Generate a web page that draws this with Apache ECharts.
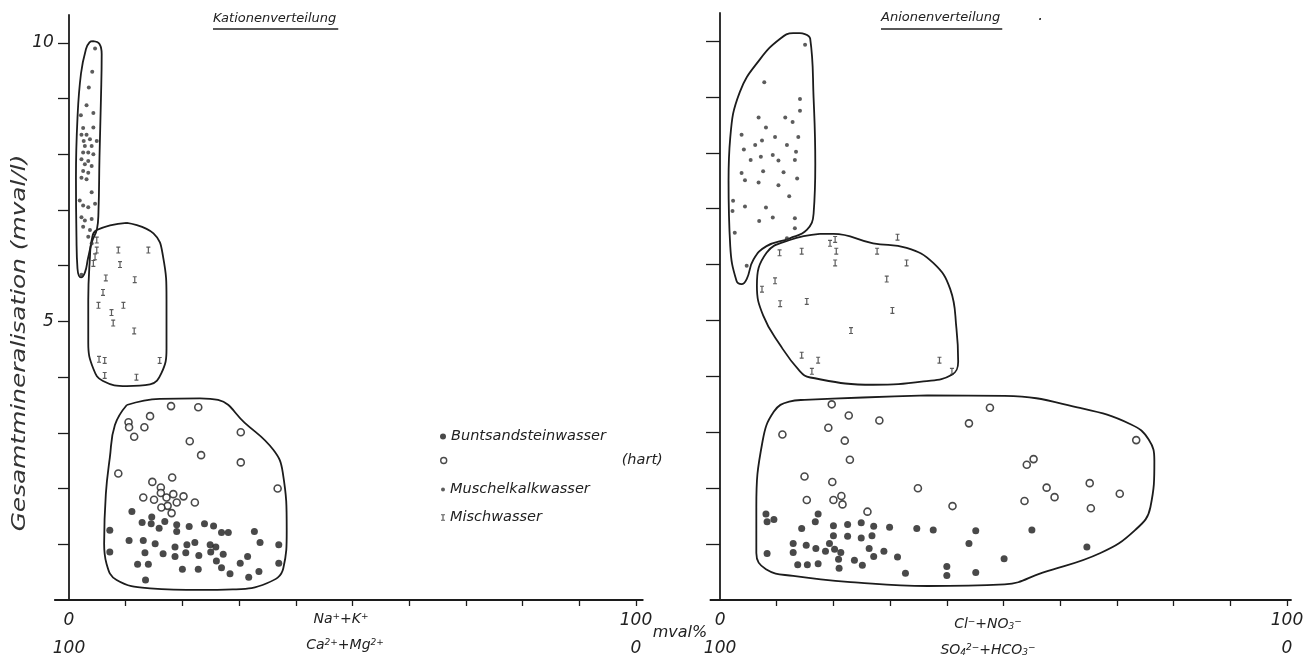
<!DOCTYPE html>
<html><head><meta charset="utf-8">
<script src="https://cdn.jsdelivr.net/npm/echarts@6/dist/echarts.min.js"></script>
<style>html,body{margin:0;padding:0;background:#fff}#c{width:1309px;height:663px}</style>
</head><body><div id="c"></div>
<script>
// ---------- Kationenverteilung (left panel) ----------
const kationBunt = [[11.1,1.59],[14.6,1.49],[12.9,1.39],[14.5,1.37],[16.9,1.41],[15.9,1.29],[19.0,1.35],[19.0,1.23],[21.2,1.32],[23.9,1.37],[25.5,1.33],[26.9,1.21],[28.1,1.21],[32.7,1.23],[7.2,1.25],[10.6,1.07],[13.1,1.07],[15.2,1.01],[18.7,0.95],[20.8,0.99],[22.2,1.03],[24.9,0.99],[25.9,0.95],[33.7,1.03],[37.0,0.99],[7.2,0.86],[13.4,0.85],[16.6,0.83],[18.7,0.78],[20.6,0.85],[22.9,0.80],[25.0,0.86],[27.2,0.82],[26.0,0.70],[30.2,0.66],[31.5,0.78],[12.1,0.64],[14.0,0.64],[20.0,0.55],[22.8,0.55],[26.9,0.58],[28.4,0.47],[31.7,0.41],[33.5,0.51],[37.0,0.66],[13.5,0.36]];
const kationHart = [[18.0,3.48],[22.8,3.46],[14.3,3.30],[10.5,3.19],[10.6,3.10],[13.3,3.10],[11.5,2.93],[21.3,2.85],[30.3,3.01],[23.3,2.60],[30.3,2.47],[8.7,2.27],[36.8,2.0],[14.7,2.12],[18.2,2.20],[16.2,2.02],[16.2,1.92],[13.1,1.84],[15.0,1.80],[17.2,1.84],[18.4,1.90],[20.2,1.86],[19.0,1.75],[22.2,1.75],[17.4,1.69],[16.3,1.66],[18.1,1.56]];
const kationMuschel = [[4.6,9.9],[4.1,9.48],[3.5,9.2],[3.1,8.88],[4.3,8.74],[2.1,8.7],[4.3,8.48],[2.5,8.47],[2.2,8.35],[3.1,8.35],[2.6,8.24],[3.7,8.27],[2.8,8.15],[4.0,8.15],[4.9,8.24],[2.5,8.03],[3.4,8.03],[4.3,8.0],[2.2,7.91],[3.4,7.88],[2.8,7.82],[4.0,7.79],[2.5,7.70],[3.4,7.67],[2.2,7.58],[3.1,7.55],[4.0,7.32],[1.9,7.17],[2.5,7.08],[3.4,7.05],[4.6,7.11],[2.2,6.87],[2.8,6.81],[4.0,6.84],[2.5,6.70],[3.7,6.64],[3.4,6.52],[4.0,6.40],[2.2,5.84]];
const kationMisch = [[4.9,6.46],[4.9,6.28],[4.6,6.16],[4.3,6.04],[8.7,6.28],[14.0,6.28],[9.0,6.02],[6.5,5.78],[11.6,5.75],[6.0,5.52],[5.2,5.29],[9.6,5.29],[7.5,5.16],[7.8,4.97],[11.5,4.83],[5.3,4.32],[6.3,4.30],[16.0,4.30],[6.3,4.03],[11.9,4.0]];
const kationHullMuschel = [[4.23,10.03],[5.38,9.98],[5.77,9.80],[5.64,9.0],[5.38,7.94],[5.2,6.96],[4.94,6.66],[4.06,6.43],[3.35,6.13],[2.82,5.88],[2.12,5.79],[1.5,5.95],[1.32,6.52],[1.23,7.58],[1.5,8.65],[2.12,9.45],[3.0,9.89],[3.62,10.01]];
const kationHullMisch = [[10.2,6.77],[14.9,6.58],[16.6,6.16],[17.2,5.39],[17.2,4.51],[16.3,4.07],[14.3,3.87],[10.2,3.84],[6.0,3.93],[4.3,4.15],[3.4,4.62],[3.4,5.39],[3.7,6.16],[4.0,6.46],[4.9,6.64]];
const kationHullBunt = [[10.2,3.50],[16.0,3.61],[23.1,3.62],[26.3,3.59],[31.0,3.18],[36.0,2.70],[37.7,2.29],[38.4,1.25],[37.8,0.57],[34.9,0.30],[28.9,0.19],[23.1,0.18],[14.3,0.21],[8.4,0.36],[6.6,0.66],[6.2,1.01],[6.5,1.90],[7.2,2.55],[8.1,3.14]];

// ---------- Anionenverteilung (right panel) ----------
const anionBunt = [[8.1,1.54],[8.3,1.40],[9.5,1.44],[17.3,1.54],[16.8,1.40],[14.4,1.28],[20.0,1.33],[22.5,1.35],[24.9,1.38],[27.1,1.32],[29.9,1.30],[34.7,1.28],[37.6,1.25],[45.1,1.24],[55.0,1.25],[20.0,1.15],[22.5,1.14],[24.9,1.11],[26.8,1.15],[12.9,1.01],[15.2,0.98],[16.9,0.92],[19.3,1.01],[20.2,0.91],[21.3,0.85],[18.6,0.87],[12.9,0.85],[26.3,0.92],[28.9,0.87],[43.9,1.01],[64.7,0.95],[8.3,0.83],[27.1,0.78],[31.3,0.77],[20.9,0.73],[23.7,0.71],[50.1,0.74],[13.7,0.63],[15.4,0.63],[17.3,0.65],[21.0,0.57],[25.1,0.62],[40.0,0.60],[32.7,0.48],[40.0,0.44],[45.1,0.49]];
const anionHart = [[19.7,3.50],[47.6,3.44],[22.7,3.30],[28.1,3.21],[43.9,3.16],[11.0,2.96],[19.1,3.08],[22.0,2.85],[73.4,2.86],[22.9,2.51],[55.3,2.52],[54.1,2.42],[14.9,2.21],[19.8,2.11],[34.9,2.00],[65.2,2.09],[57.6,2.01],[59.0,1.84],[70.5,1.90],[15.3,1.79],[20.0,1.79],[21.4,1.86],[21.6,1.71],[53.7,1.77],[41.0,1.68],[65.4,1.64],[26.0,1.58]];
const anionMuschel = [[15.0,9.93],[7.8,9.26],[14.1,8.96],[14.1,8.75],[6.8,8.63],[11.5,8.63],[12.8,8.55],[8.1,8.45],[3.8,8.32],[9.7,8.28],[13.8,8.28],[7.4,8.22],[6.2,8.14],[11.8,8.14],[4.2,8.06],[13.4,8.02],[9.3,7.96],[7.2,7.93],[5.4,7.87],[10.3,7.86],[13.2,7.87],[7.6,7.67],[11.2,7.65],[3.8,7.64],[4.4,7.51],[6.8,7.47],[10.3,7.42],[13.6,7.54],[12.2,7.22],[2.3,7.14],[4.4,7.04],[8.1,7.02],[2.2,6.96],[9.3,6.84],[6.9,6.78],[13.2,6.83],[13.2,6.65],[2.6,6.57],[11.8,6.47],[4.7,5.98]];
const anionMisch = [[20.3,6.45],[19.4,6.38],[20.5,6.24],[10.5,6.21],[14.4,6.24],[27.7,6.24],[31.3,6.49],[20.3,6.03],[32.9,6.03],[9.7,5.71],[29.4,5.74],[7.4,5.56],[10.6,5.30],[15.3,5.34],[30.4,5.18],[23.1,4.82],[14.4,4.38],[17.3,4.29],[16.2,4.09],[38.7,4.29],[40.9,4.09]];
const anionHullMuschel = [[14.1,10.14],[15.9,10.04],[16.5,8.98],[16.8,7.80],[16.5,6.91],[15.3,6.62],[12.3,6.47],[8.2,6.33],[5.9,6.09],[4.7,5.74],[3.8,5.65],[2.9,5.71],[1.8,6.33],[1.5,7.50],[1.8,8.27],[3.5,9.09],[7.1,9.68],[10.6,10.04],[12.9,10.14]];
const anionHullMisch = [[17.6,6.55],[20.0,6.55],[27.0,6.38],[32.9,6.30],[37.6,6.03],[40.6,5.56],[41.7,4.85],[42.0,4.26],[40.9,4.03],[35.9,3.91],[27.0,3.85],[15.9,3.98],[14.1,4.09],[10.6,4.56],[7.6,5.09],[6.5,5.62],[8.2,6.21],[12.3,6.44]];
const anionHullBunt = [[36.6,3.66],[50.2,3.65],[63.7,3.43],[72.5,3.14],[75.6,2.87],[76.6,2.49],[75.9,1.66],[73.2,1.25],[67.1,0.84],[56.9,0.49],[50.2,0.28],[36.6,0.25],[24.4,0.31],[12.9,0.43],[8.1,0.55],[6.4,0.84],[6.4,1.66],[7.5,2.84],[9.5,3.37],[12.2,3.55],[14.9,3.58]];

// ---------- axis ticks / labels ----------
const xTickValues = [10,20,30,40,50,60,70,80,90,100];
const yTickValues = [1,2,3,4,5,6,7,8,9,10];
const yLabelValues = [5,10];
const xLabelValues = [0,100];
const seriesNames = ['Buntsandsteinwasser','(hart)','Muschelkalkwasser','Mischwasser'];

const INK = '#1c1c1c';
const FONT = 'DejaVu Sans';
const mischSymbol = 'path://M0,0H6V1.6H3.9V8.4H6V10H0V8.4H2.1V1.6H0Z';

function closed(a){ return a.concat([a[0]]); }

function pointSeries(gi, bunt, hart, musch, misch){
  return [
    {name:seriesNames[0], type:'scatter', xAxisIndex:gi, yAxisIndex:gi, data:bunt, symbol:'circle', symbolSize:7, itemStyle:{color:INK}, z:3},
    {name:seriesNames[1], type:'scatter', xAxisIndex:gi, yAxisIndex:gi, data:hart, symbol:'circle', symbolSize:7, itemStyle:{color:'#fff', borderColor:INK, borderWidth:1.6}, z:3},
    {name:seriesNames[2], type:'scatter', xAxisIndex:gi, yAxisIndex:gi, data:musch, symbol:'circle', symbolSize:4, itemStyle:{color:'#333'}, z:3},
    {name:seriesNames[3], type:'scatter', xAxisIndex:gi, yAxisIndex:gi, data:misch, symbol:mischSymbol, symbolSize:[4,7], itemStyle:{color:'#333'}, z:3}
  ];
}
function hull(gi, pts){
  return {type:'line', xAxisIndex:gi, yAxisIndex:gi, data:closed(pts), smooth:0.45, symbol:'none', silent:true,
    lineStyle:{color:INK, width:1.8}, z:2, clip:false};
}

const axisLineStyle = {color:INK, width:1.8};
const labelStyle = {fontFamily:FONT, fontStyle:'italic', fontSize:17, color:'#222'};

function xAxisCfg(gi, min, max){
  return {gridIndex:gi, type:'value', min:min, max:max,
    axisLine:{show:true, onZero:true, lineStyle:axisLineStyle},
    axisTick:{show:true, customValues:xTickValues, length:6, lineStyle:{color:INK, width:1.3}},
    axisLabel:Object.assign({customValues:xLabelValues, margin:7, lineHeight:28,
      formatter:v=> v===0 ? '0\n100' : '100\n0'}, labelStyle),
    splitLine:{show:false}};
}
function yAxisCfg(gi, showLabels, tickLen){
  return {gridIndex:gi, type:'value', min:0, max:10.5,
    axisLine:{show:true, onZero:true, lineStyle:axisLineStyle},
    axisTick:{show:true, customValues:yTickValues, length:tickLen, lineStyle:{color:INK, width:1.3}},
    axisLabel:Object.assign({show:showLabels, customValues:yLabelValues, margin:1}, labelStyle),
    splitLine:{show:false}};
}

// measure text for underline
const mctx = document.createElement('canvas').getContext('2d');
function textW(t, size){ mctx.font = 'italic ' + size + 'px "' + FONT + '"'; return mctx.measureText(t).width; }
const T1 = 'Kationenverteilung', T2 = 'Anionenverteilung', TS = 13;
const t1x = 213, t2x = 881;
const w1 = textW(T1, TS), w2 = textW(T2, TS);

const legendText = {fontFamily:FONT, fontStyle:'italic', fontSize:14.5, color:'#222'};
function legendAt(name, top, icon, w, h, itemStyle, extra){
  return Object.assign({data:[{name:name, icon:icon}], left:443 - w/2, top:top, padding:0, itemWidth:w, itemHeight:h,
    itemGap:0, selectedMode:false, textStyle:legendText, itemStyle:itemStyle}, extra||{});
}

// rich text for ion formulas (superscripts / subscripts)
const ionRich = {
  b:{fontFamily:FONT, fontStyle:'italic', fontSize:14, lineHeight:14, verticalAlign:'middle', fill:'#222', color:'#222'},
  p:{fontFamily:FONT, fontStyle:'italic', fontSize:9, lineHeight:9, verticalAlign:'top', fill:'#222', color:'#222'},
  s:{fontFamily:FONT, fontStyle:'italic', fontSize:9, lineHeight:9, verticalAlign:'bottom', fill:'#222', color:'#222'}
};
function ionText(x, y, txt){
  return {type:'text', x:x, y:y, style:{text:txt, rich:ionRich, align:'center', verticalAlign:'middle', lineHeight:22}};
}

const option = {
  backgroundColor:'#fff',
  animation:false,
  grid:[
    {left:54.8, top:15, width:588, height:592},
    {left:710.4, top:13, width:580.6, height:595}
  ],
  xAxis:[xAxisCfg(0, -2.5, 101.2), xAxisCfg(1, -1.7, 100.7)],
  yAxis:[yAxisCfg(0, true, 11), yAxisCfg(1, false, 14)],
  legend:[
    legendAt(seriesNames[0], 429, 'circle', 6, 6, {color:INK}),
    legendAt(seriesNames[1], 453, 'circle', 6, 6, {color:'#fff', borderColor:INK, borderWidth:1.4},
      {formatter:()=>'{g|}(hart)', textStyle:Object.assign({rich:{g:{width:170}}}, legendText)}),
    legendAt(seriesNames[2], 482, 'circle', 4, 4, {color:'#333'}),
    legendAt(seriesNames[3], 510, mischSymbol, 4, 7, {color:'#333'})
  ],
  graphic:[
    {type:'text', left:t1x, top:12, style:{text:T1, font:'italic '+TS+'px "'+FONT+'"', fill:'#222'}},
    {type:'line', shape:{x1:t1x, y1:29, x2:t1x + w1 + 2, y2:29}, style:{stroke:'#222', lineWidth:1.4}},
    {type:'text', left:t2x, top:11, style:{text:T2, font:'italic '+TS+'px "'+FONT+'"', fill:'#222'}},
    {type:'line', shape:{x1:t2x, y1:29, x2:t2x + w2 + 2, y2:29}, style:{stroke:'#222', lineWidth:1.4}},
    {type:'text', left:t2x + w2 + 38, top:9, style:{text:'.', font:'italic 15px "'+FONT+'"', fill:'#222'}},
    {type:'text', x:20, y:343, rotation:Math.PI/2, scaleX:1.24, style:{text:'Gesamtmineralisation (mval/l)', font:'italic 20px "'+FONT+'"', fill:'#333', align:'center', verticalAlign:'middle'}},
    ionText(341, 619, '{b|Na}{p|+}{b|+K}{p|+}'),
    ionText(345, 645, '{b|Ca}{p|2+}{b|+Mg}{p|2+}'),
    {type:'text', x:680, y:633, style:{text:'mval%', font:'italic 16px "'+FONT+'"', fill:'#222', align:'center', verticalAlign:'middle'}},
    ionText(988, 624, '{b|Cl}{p|−}{b|+NO}{s|3}{p|−}'),
    ionText(988, 650, '{b|SO}{s|4}{p|2−}{b|+HCO}{s|3}{p|−}')
  ],
  series:[].concat(
    [hull(0, kationHullMuschel), hull(0, kationHullMisch), hull(0, kationHullBunt)],
    pointSeries(0, kationBunt, kationHart, kationMuschel, kationMisch),
    [hull(1, anionHullMuschel), hull(1, anionHullMisch), hull(1, anionHullBunt)],
    pointSeries(1, anionBunt, anionHart, anionMuschel, anionMisch)
  )
};
const chart = echarts.init(document.getElementById('c'), null, {renderer:'canvas'});
chart.setOption(option);
</script>
</body></html>
